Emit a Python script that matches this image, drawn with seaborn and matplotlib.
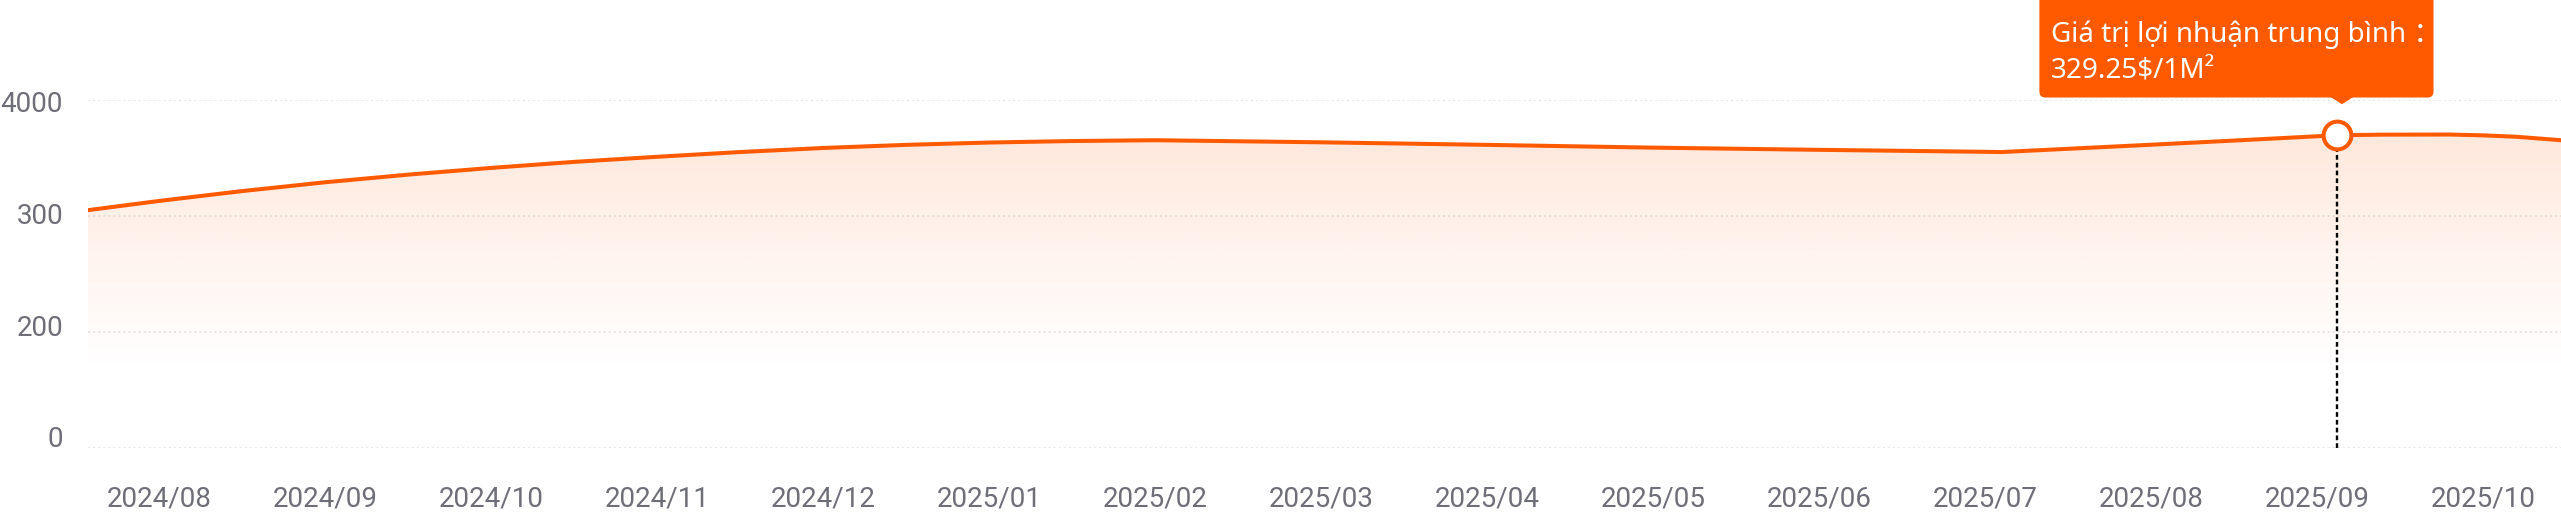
import numpy as np
import pandas as pd
import matplotlib
matplotlib.use("Agg")
import matplotlib.pyplot as plt
import seaborn as sns
from matplotlib.colors import to_rgb
from matplotlib.patches import FancyBboxPatch, Polygon
from matplotlib.transforms import Affine2D, ScaledTranslation

# ---------------- data ----------------
month_labels = ["2024/08", "2024/09", "2024/10", "2024/11", "2024/12", "2025/01",
                "2025/02", "2025/03", "2025/04", "2025/05", "2025/06", "2025/07",
                "2025/08", "2025/09", "2025/10"]
month_ticks = list(range(len(month_labels)))

x_pos = [-0.43, 0, 0.5, 1, 1.5, 2, 2.5, 3, 3.5, 4, 4.5, 5, 5.5, 6, 7, 8, 9, 10,
         11, 11.1, 12, 12.5, 13, 13.12, 13.4, 13.8, 14, 14.2, 14.47]
profit_values = [204.9, 212.9, 221.4, 229.0, 235.6, 241.4, 246.6, 251.0, 255.1,
                 258.6, 261.3, 263.3, 264.6, 265.3, 263.5, 261.3, 258.9, 257.0,
                 255.3, 255.1, 261.4, 265.0, 268.7, 269.6, 270.1, 270.2, 269.5,
                 268.3, 265.3]

y_ticks = [0, 100, 200, 300]
y_tick_labels = ["0", "200", "300", "4000"]

hover_x = 13.12
hover_value = 269.6
tooltip_title = "Giá trị lợi nhuận trung bình ："
tooltip_value = "329.25$/1M²"

# ---------------- style ----------------
ORANGE = "#FF5A00"
GRID = "#E6E6E6"
LABEL = "#6E6E78"

sns.set_theme(style="white")
plt.rcParams["font.family"] = ["Roboto", "Noto Sans CJK SC", "DejaVu Sans"]

W, H = 2561, 514
fig = plt.figure(figsize=(W / 100, H / 100), dpi=100)
fig.patch.set_facecolor("white")
ax = fig.add_axes([88 / W, (H - 447.7) / H, (W - 88) / W, (447.7 - 100) / H])

XMIN, XMAX = -0.428, 14.47
YMIN, YMAX = 0, 300

df = pd.DataFrame({"x": x_pos, "value": profit_values})
sns.lineplot(data=df, x="x", y="value", ax=ax, color=ORANGE, linewidth=2.9,
             estimator=None, sort=False, zorder=4)

# gradient area
poly = ax.fill_between(x_pos, profit_values, 0, facecolor="none", edgecolor="none")
vv = np.linspace(YMIN, YMAX, 600)
alpha = np.clip((vv - 67) / (271 - 67), 0, None) * 0.14
img = np.zeros((len(vv), 1, 4))
img[..., :3] = to_rgb(ORANGE)
img[..., 3] = alpha[:, None]
im = ax.imshow(img, extent=[XMIN, XMAX, YMIN, YMAX], origin="lower",
               aspect="auto", zorder=1, interpolation="bilinear")
im.set_clip_path(poly.get_paths()[0], ax.transData)

ax.set_xlim(XMIN, XMAX)
ax.set_ylim(YMIN, YMAX)

# axes cosmetics
for s in ax.spines.values():
    s.set_visible(False)
ax.set_xlabel("")
ax.set_ylabel("")
ax.set_xticks(month_ticks)
ax.set_xticklabels(month_labels)
ax.set_yticks(y_ticks)
ax.set_yticklabels(y_tick_labels)
ax.tick_params(axis="both", length=0, labelsize=20, labelcolor=LABEL)
ax.tick_params(axis="x", pad=27)
ax.tick_params(axis="y", pad=18)
ax.yaxis.grid(True, color=GRID, linestyle=(0, (1.2, 1.6)), linewidth=1.3)
ax.xaxis.grid(False)
ax.set_axisbelow(True)

# hover guide line and marker
ax.vlines(hover_x, 0, hover_value, colors="black", linestyles=(0, (2.0, 1.3)),
          linewidth=1.7, zorder=3)
ax.plot([hover_x], [hover_value], marker="o", markersize=20, markerfacecolor="white",
        markeredgecolor=ORANGE, markeredgewidth=2.9, zorder=6, clip_on=False)

# y tick label offsets (labels sit a bit off their gridlines in the reference)
offsets_pt = [7.9, 4.8, 1.7, -1.2]
for lab, dy in zip(ax.get_yticklabels(), offsets_pt):
    lab.set_transform(lab.get_transform() + ScaledTranslation(0, dy / 72, fig.dpi_scale_trans))

# tooltip anchored to the hover point (display pixels)
px, py = ax.transData.transform((hover_x, hover_value))
tr = Affine2D().translate(px, py)
box = FancyBboxPatch((-297.5, 37.7), 394.1, 110, boxstyle="round,pad=0,rounding_size=6",
                     facecolor=ORANGE, edgecolor="none", transform=tr, zorder=10)
fig.add_artist(box)
tri = Polygon([(-7, 38.7), (17, 38.7), (5, 31)], closed=True, facecolor=ORANGE,
              edgecolor="none", transform=tr, zorder=10)
fig.add_artist(tri)
tip_font = ["Noto Sans", "Noto Sans CJK SC", "DejaVu Sans"]
fig.text(-286, 93, tooltip_title, transform=tr, color="white", fontsize=20,
         family=tip_font, ha="left", va="baseline", zorder=11)
fig.text(-286, 58, tooltip_value, transform=tr, color="white", fontsize=20,
         family=tip_font, ha="left", va="baseline", zorder=11)

fig.savefig("out.png", dpi=100, facecolor="white")
